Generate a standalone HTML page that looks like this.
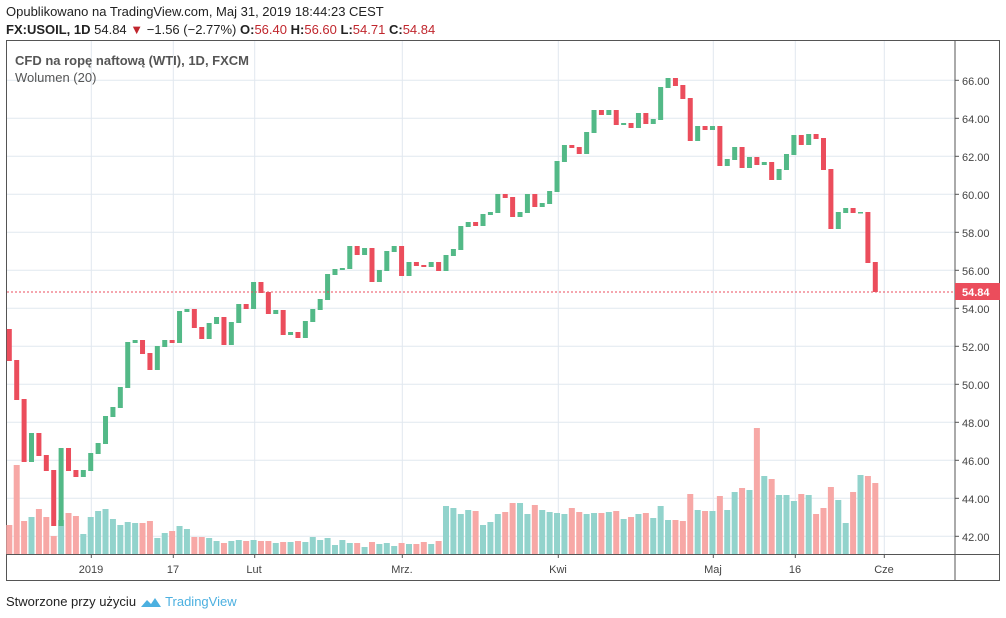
<!DOCTYPE html>
<html><head><meta charset="utf-8"><style>
body{margin:0;background:#fff;width:1006px;height:618px;overflow:hidden;font-family:"Liberation Sans",sans-serif;}
.h1{position:absolute;left:6px;top:4px;font-size:13px;color:#222;}
.h2{position:absolute;left:6px;top:22px;font-size:13px;color:#222;}
.h2 b{font-weight:bold}
.r{color:#c0262d}
.foot{position:absolute;left:6px;top:592px;font-size:13px;color:#222;}
.foot span{color:#4cb0e0}
svg{position:absolute;left:0;top:0}
</style></head><body>
<div class="h1">Opublikowano na TradingView.com, Maj 31, 2019 18:44:23 CEST</div>
<div class="h2"><b>FX:USOIL, 1D</b> 54.84 <span class="r">▼</span> −1.56 (−2.77%) <b>O:</b><span class="r">56.40</span> <b>H:</b><span class="r">56.60</span> <b>L:</b><span class="r">54.71</span> <b>C:</b><span class="r">54.84</span></div>
<svg id="s" width="1006" height="618" xmlns="http://www.w3.org/2000/svg" font-family="Liberation Sans, sans-serif">
<rect x="6.5" y="40.5" width="993" height="540" fill="none" stroke="#555"/>
<g id="grid" stroke="#e1e8ef" stroke-width="1"></g>
<g id="vol"></g>
<g id="cdl"></g>
<line x1="7" y1="292" x2="955" y2="292" stroke="#eb4d5c" stroke-dasharray="2,2"/>
<line x1="955" y1="40" x2="955" y2="581" stroke="#555"/>
<line x1="7" y1="554.5" x2="1000" y2="554.5" stroke="#555"/>
<g id="ticks" stroke="#555"></g>
<g font-size="11" fill="#444">
<text x="962" y="85">66.00</text><text x="962" y="123">64.00</text><text x="962" y="161">62.00</text><text x="962" y="199">60.00</text><text x="962" y="237">58.00</text><text x="962" y="275">56.00</text><text x="962" y="313">54.00</text><text x="962" y="351">52.00</text><text x="962" y="389">50.00</text><text x="962" y="427">48.00</text><text x="962" y="465">46.00</text><text x="962" y="503">44.00</text><text x="962" y="541">42.00</text>
</g>
<rect x="955" y="283" width="45" height="17" fill="#eb4d5c"/>
<text x="962" y="296" font-size="11" font-weight="bold" fill="#fff">54.84</text>
<g font-size="11" fill="#444" text-anchor="middle">
<text x="91" y="573">2019</text><text x="173" y="573">17</text><text x="254" y="573">Lut</text><text x="402" y="573">Mrz.</text><text x="558" y="573">Kwi</text><text x="713" y="573">Maj</text><text x="795" y="573">16</text><text x="884" y="573">Cze</text>
</g>
<text x="15" y="65" font-size="13" font-weight="bold" fill="#555">CFD na ropę naftową (WTI), 1D, FXCM</text>
<text x="15" y="82" font-size="13" fill="#555">Wolumen (20)</text>
</svg>
<div class="foot">Stworzone przy użyciu <svg style="position:relative;left:0;top:3px" width="22" height="14"><path d="M1 12 L7 5 L11 9 L15 3 L21 12 Z" fill="#4cb0e0"/></svg> <span>TradingView</span></div>
<script>
var NS="http://www.w3.org/2000/svg";
function el(p,t,a){var e=document.createElementNS(NS,t);for(var k in a)e.setAttribute(k,a[k]);document.getElementById(p).appendChild(e);}
var gy=[80.3,118.3,156.3,194.3,232.3,270.3,308.3,346.3,384.3,422.3,460.3,498.3,536.3];
gy.forEach(function(y){el("grid","line",{x1:7,x2:955,y1:y,y2:y});el("ticks","line",{x1:955,x2:959,y1:y,y2:y});});
[91.3,173.3,254.7,402.3,558.3,713.3,795.3,884.3].forEach(function(x){el("grid","line",{x1:x,x2:x,y1:41,y2:554});el("ticks","line",{x1:x,x2:x,y1:554,y2:558});});
var C=[[329,361,0],[360,400,0],[399,462,0],[433,462,1],[433,456,0],[455,471,0],[470,526,0],[448,526,1],[448,471,0],[470,477,0],[470,477,1],[453,471,1],[443,454,1],[416,444,1],[407,417,1],[387,408,1],[342,388,1],[340,343,1],[340,354,0],[353,370,0],[346,370,1],[340,347,1],[340,343,0],[311,343,1],[309,312,1],[309,328,0],[327,339,0],[323,339,1],[317,324,1],[317,345,0],[322,345,1],[304,323,1],[304,309,0],[282,309,1],[282,293,0],[292,314,0],[310,314,1],[310,335,0],[332,335,1],[332,338,0],[321,338,1],[309,322,1],[299,310,1],[274,300,1],
[269,275,1],[268,270,1],[246,269,1],[246,255,0],[248,255,1],[248,282,0],[270,282,1],[251,271,1],[246,252,1],[246,276,0],[262,276,1],[262,266,0],[265,267,0],[262,267,1],[262,271,0],[255,271,1],[249,256,1],[226,250,1],[222,227,1],[222,226,0],[214,226,1],[212,215,1],[194,213,1],[194,198,0],[197,217,0],[212,217,1],[194,213,1],[194,207,0],[203,207,1],[191,204,1],[161,192,1],[145,162,1],[145,148,0],[147,154,0],[132,154,1],[110,133,1],[110,115,0],[110,115,1],[110,125,0],[123,125,1],[123,128,0],[113,128,1],[113,124,0],
[119,124,1],[87,120,1],[78,88,1],[78,86,0],[85,99,0],[98,141,0],[126,141,1],[126,130,0],[126,130,1],[126,166,0],[159,166,1],[147,160,1],[147,168,0],[157,168,1],[157,165,0],[162,165,1],[162,180,0],[169,180,1],[154,170,1],[135,155,1],[135,145,0],[134,145,1],[134,139,0],[138,170,0],[169,229,0],[212,229,1],[208,213,1],[208,213,0],[212,213.5,1],[212,263,0],[262,292,0]];
var V=[315,135,303,291,267,291,348,300,279,288,342,291,273,267,297,315,306,309,309,303,354,339,333,318,327,351,351,354,363,369,363,360,363,360,363,363,369,366,366,363,366,351,360,354,375,360,369,369,381,366,372,369,378,369,372,372,366,372,363,
258,264,282,270,273,315,306,282,276,249,249,282,255,270,276,279,282,264,276,282,279,279,276,273,297,291,282,279,294,258,300,300,303,222,270,273,273,228,270,216,204,210,24,168,177,225,225,243,222,225,282,264,201,240,309,216,165,168,189];
var N=C.length, sp=(875.3-9.3)/(N-1);
for(var i=0;i<N;i++){var x=9.3+i*sp;var c=C[i];
var vt=420+(V[i]||363)/3;el("vol","rect",{x:x-3,y:vt,width:6,height:554-vt,fill:c[2]?"#92d3cc":"#f7a8a6"});
el("cdl","rect",{x:x-2.5,y:c[0],width:5,height:Math.max(1.5,c[1]-c[0]),fill:c[2]?"#53b987":"#eb4d5c"});}
</script>
</body></html>
